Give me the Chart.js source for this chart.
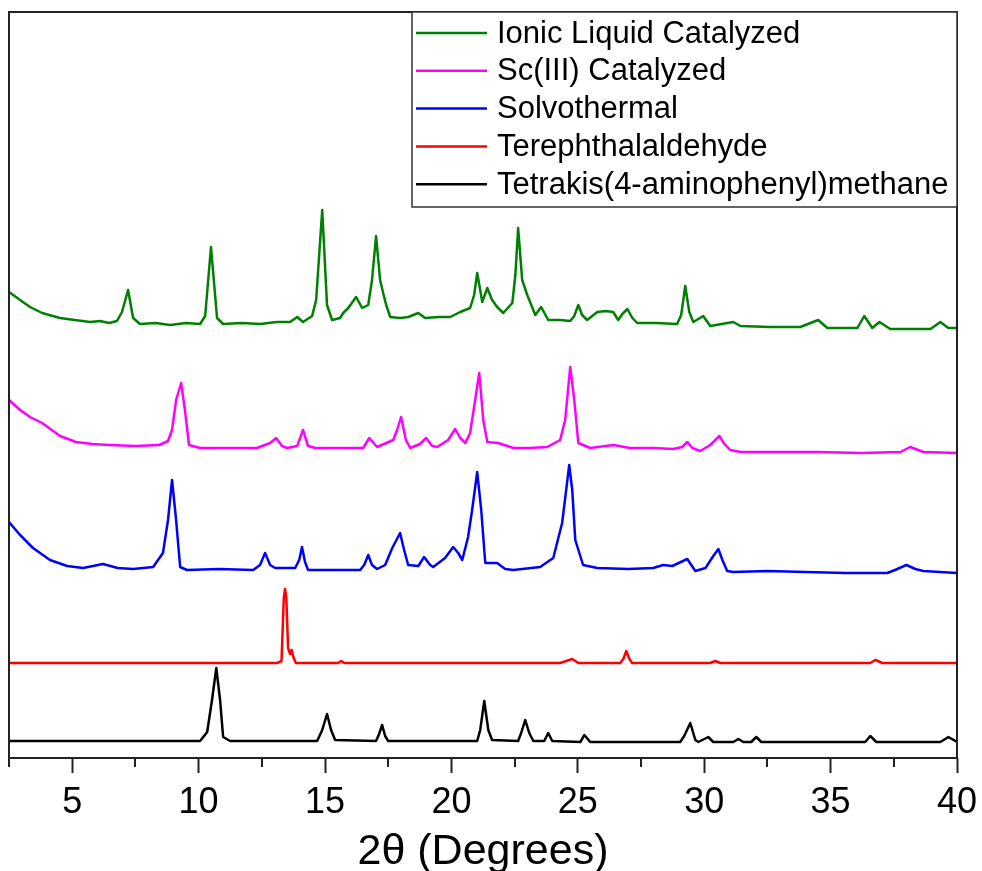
<!DOCTYPE html>
<html>
<head>
<meta charset="utf-8">
<title>PXRD patterns</title>
<script src="https://cdn.jsdelivr.net/npm/chart.js@4/dist/chart.umd.min.js"></script>
<style>
  html, body { margin: 0; padding: 0; background: #fff; }
  canvas { display: block; }
</style>
</head>
<body>
<canvas id="xrd" width="982" height="871"></canvas>
<script>
// Powder XRD patterns, stacked with vertical offsets (arbitrary intensity units).
// Each pattern is a list of [2θ (deg), intensity] pairs.
const seriesNames = [
  'Ionic Liquid Catalyzed',
  'Sc(III) Catalyzed',
  'Solvothermal',
  'Terephthalaldehyde',
  'Tetrakis(4-aminophenyl)methane'
];

const ionicPattern = [
  [2.50,466],[2.94,458],[3.33,451],[3.81,445],[4.52,440],[5.10,438],[5.71,436],[6.10,437],[6.46,435],[6.77,437],
  [6.97,446],[7.21,468],[7.41,440],[7.68,434],[8.30,435],[8.87,433],[9.50,435],[10.06,434],[10.26,442],[10.49,511],
  [10.73,440],[10.97,434],[11.70,435],[12.43,434],[13.10,436],[13.62,436],[13.90,441],[14.13,436],[14.49,442],[14.65,458],
  [14.89,548],[15.08,453],[15.28,438],[15.60,440],[15.72,445],[15.92,450],[16.23,461],[16.47,450],
  [16.71,453],[16.86,478],[17.02,522],[17.18,478],[17.30,465],[17.42,453],[17.58,441],[17.97,440],
  [18.30,441],[18.69,445],[18.96,440],[19.50,441],[19.95,441],[20.35,446],[20.74,450],[20.90,463],[21.02,485],[21.14,468],
  [21.22,456],[21.42,470],[21.61,458],[21.81,451],[22.05,445],[22.41,455],[22.53,483],[22.64,530],
  [22.80,478],[23.00,463],[23.32,443],[23.55,451],[23.83,438],[24.30,438],[24.70,437],[24.86,442],[25.02,453],
  [25.17,443],[25.37,438],[25.77,446],[26.10,447],[26.40,446],[26.60,438],[26.76,444],[26.96,449],[27.16,440],
  [27.35,435],[28.10,435],[28.93,434],[29.09,443],[29.25,472],[29.41,446],[29.57,436],[29.96,442],[30.24,432],
  [31.15,436],[31.43,432],[32.60,431],[33.80,431],[34.51,438],[34.87,430],[36.06,430],[36.33,442],[36.65,430],
  [36.93,436],[37.36,429],[38.95,429],[39.34,436],[39.66,430],[40.00,430]
];

const scandiumPattern = [
  [2.50,358],[2.94,348],[3.33,341],[3.81,335],[4.52,322],[5.15,316],[5.80,314],[6.46,313],[7.50,312],[8.44,313],
  [8.79,317],[8.95,328],[9.11,358],[9.31,375],[9.46,348],[9.62,313],[10.06,310],[11.20,310],[12.31,310],
  [12.83,315],[13.07,320],[13.30,312],[13.50,310],[13.90,312],[14.13,328],[14.33,312],[14.61,310],
  [15.60,310],[16.51,310],[16.75,320],[17.06,311],[17.70,318],[17.85,328],[18.01,341],[18.20,318],[18.37,310],
  [18.76,314],[19.00,320],[19.24,312],[19.44,311],[19.87,318],[20.15,329],[20.35,320],[20.55,315],
  [20.74,325],[20.94,358],[21.10,385],[21.26,338],[21.42,316],[21.85,315],[22.45,310],[23.10,310],[23.79,311],
  [24.30,318],[24.50,338],[24.70,391],[24.86,358],[25.02,315],[25.49,310],[26.40,313],[27.07,310],
  [28.00,310],[28.78,309],[29.13,311],[29.33,316],[29.53,310],[29.84,307],[30.24,313],[30.60,322],[30.80,314],
  [31.03,308],[31.43,306],[33.00,306],[34.50,306],[36.20,305],[37.76,306],[38.15,311],[38.67,306],[40.00,305]
];

const solvothermalPattern = [
  [2.50,236],[2.94,223],[3.45,210],[4.12,198],[4.80,192],[5.43,190],[6.22,194],[6.80,190],[7.41,189],
  [8.20,191],[8.59,205],[8.79,238],[8.95,278],[9.11,238],[9.27,191],[9.54,188],[10.80,189],[12.16,188],
  [12.43,193],[12.63,205],[12.83,193],[13.03,190],[13.82,190],[13.98,198],[14.09,211],[14.21,196],
  [14.33,188],[15.40,188],[16.39,188],[16.55,193],[16.71,203],[16.86,193],[17.06,189],[17.38,193],[17.66,210],
  [17.97,225],[18.13,208],[18.29,193],[18.69,192],[18.92,201],[19.16,193],[19.28,191],[19.75,200],
  [20.07,211],[20.27,205],[20.43,198],[20.66,221],[20.82,248],[21.02,286],[21.18,248],[21.34,195],
  [21.81,195],[22.13,189],[22.45,188],[23.51,191],[24.03,200],[24.38,235],[24.54,268],[24.66,293],
  [24.78,268],[24.90,218],[25.21,193],[25.77,190],[27.00,189],[27.98,190],[28.38,193],[28.74,192],[29.33,199],
  [29.65,187],[30.05,190],[30.36,202],[30.56,209],[30.72,198],[30.91,187],[31.15,186],[32.50,187],[34.00,186],
  [35.60,185],[37.24,185],[37.55,188],[38.00,193],[38.35,189],[38.67,187],[40.00,185]
];

const terephthalaldehydePattern = [
  [2.50,95],[13.11,95],[13.28,97],[13.37,160],[13.42,169],[13.47,160],[13.54,110],[13.62,104],
  [13.68,108],[13.76,100],[13.85,95],[15.52,95],[15.64,97],[15.76,95],[24.30,95],[24.78,99],
  [25.02,95],[26.68,95],[26.80,99],[26.92,107],[27.04,99],[27.15,95],[30.24,95],[30.44,97],
  [30.64,95],[36.57,95],[36.77,98],[37.05,95],[40.00,95]
];

const tapmPattern = [
  [2.50,17],[10.06,17],[10.34,26],[10.53,58],[10.70,90],[10.85,58],[10.97,21],[11.25,17],
  [14.69,17],[14.89,28],[15.08,44],[15.24,28],[15.40,18],[17.02,17],[17.14,24],[17.26,33],
  [17.38,22],[17.50,17],[21.02,17],[21.14,28],[21.30,57],[21.46,28],[21.61,18],[22.64,17],
  [22.76,25],[22.92,38],[23.08,25],[23.24,17],[23.67,17],[23.83,25],[23.99,17],[25.10,16],
  [25.26,23],[25.49,16],[29.05,16],[29.21,22],[29.45,35],[29.65,18],[29.77,16],[30.16,21],
  [30.36,16],[31.15,16],[31.35,19],[31.55,16],[31.86,16],[32.06,21],[32.26,16],[36.37,16],
  [36.57,22],[36.81,16],[39.34,16],[39.66,21],[40.00,16]
];

// Axis ticks: every 2.5°, labelled every 5°
const xTicks = [2.5,5,7.5,10,12.5,15,17.5,20,22.5,25,27.5,30,32.5,35,37.5,40];
const xTickLabels = [5,10,15,20,25,30,35,40];

const seriesColors = ['#008000', '#ff00ff', '#0000ff', '#ff0000', '#000000'];
const patterns = [ionicPattern, scandiumPattern, solvothermalPattern, terephthalaldehydePattern, tapmPattern];

const FONT = '"Liberation Sans", Arial, Helvetica, sans-serif';
const isLabelled = v => xTickLabels.some(l => Math.abs(l - v) < 1e-6);

// Closed frame around the plot plus the short unlabelled ticks
const framePlugin = {
  id: 'frame',
  afterDatasetsDraw(chart) {
    const { ctx, chartArea: a, scales: { x } } = chart;
    ctx.save();
    ctx.strokeStyle = '#222';
    ctx.lineWidth = 2;
    ctx.strokeRect(a.left, a.top, a.right - a.left, a.bottom - a.top);
    ctx.beginPath();
    x.ticks.forEach(t => {
      if (!isLabelled(t.value)) {
        const px = Math.round(x.getPixelForValue(t.value));
        ctx.moveTo(px, a.bottom);
        ctx.lineTo(px, a.bottom + 9);
      }
    });
    ctx.stroke();
    ctx.restore();
  }
};

// Boxed legend in the upper-right corner of the plot
const boxLegendPlugin = {
  id: 'boxLegend',
  afterDraw(chart) {
    const { ctx, chartArea: a } = chart;
    const left = 412, top = a.top, right = a.right, bottom = 207;
    ctx.save();
    ctx.fillStyle = '#fff';
    ctx.fillRect(left, top, right - left, bottom - top);
    ctx.strokeStyle = '#333';
    ctx.lineWidth = 1.5;
    ctx.strokeRect(left, top, right - left, bottom - top);
    ctx.font = '31px ' + FONT;
    ctx.textBaseline = 'middle';
    ctx.textAlign = 'left';
    chart.data.datasets.forEach((ds, i) => {
      const y = 33 + i * 37.8;
      ctx.strokeStyle = ds.borderColor;
      ctx.lineWidth = 2.5;
      ctx.beginPath();
      ctx.moveTo(416, y);
      ctx.lineTo(487, y);
      ctx.stroke();
      ctx.fillStyle = '#000';
      ctx.fillText(ds.label, 497, y + 1);
    });
    ctx.restore();
  }
};

new Chart(document.getElementById('xrd'), {
  type: 'line',
  data: {
    datasets: patterns.map((p, i) => ({
      label: seriesNames[i],
      data: p.map(([t, v]) => ({ x: t, y: v })),
      borderColor: seriesColors[i],
      backgroundColor: seriesColors[i],
      borderWidth: 2.5,
      borderJoinStyle: 'round',
      borderCapStyle: 'round',
      pointRadius: 0,
      tension: 0,
      fill: false
    }))
  },
  options: {
    responsive: false,
    animation: false,
    devicePixelRatio: 1,
    layout: { padding: { top: 12, left: 9, right: 25, bottom: 0 } },
    plugins: { legend: { display: false }, tooltip: { enabled: false } },
    scales: {
      x: {
        type: 'linear',
        min: 2.5,
        max: 40,
        afterFit(scale) {
          scale.height = 113;
          scale.paddingLeft = 0;
          scale.paddingRight = 0;
        },
        afterBuildTicks(scale) { scale.ticks = xTicks.map(v => ({ value: v })); },
        ticks: {
          autoSkip: false,
          maxRotation: 0,
          padding: 8,
          color: '#000',
          font: { family: FONT, size: 36 },
          callback: v => (isLabelled(v) ? String(v) : '')
        },
        grid: {
          drawOnChartArea: false,
          drawTicks: true,
          tickLength: 15,
          tickWidth: 2,
          tickColor: c => (c.tick && isLabelled(c.tick.value) ? '#222' : 'rgba(0,0,0,0)')
        },
        border: { display: false },
        title: {
          display: true,
          text: '2θ (Degrees)',
          color: '#000',
          font: { family: FONT, size: 43, lineHeight: 0.9 },
          padding: 0
        }
      },
      y: { display: false, min: 0, max: 746 }
    }
  },
  plugins: [framePlugin, boxLegendPlugin]
});
</script>
</body>
</html>
